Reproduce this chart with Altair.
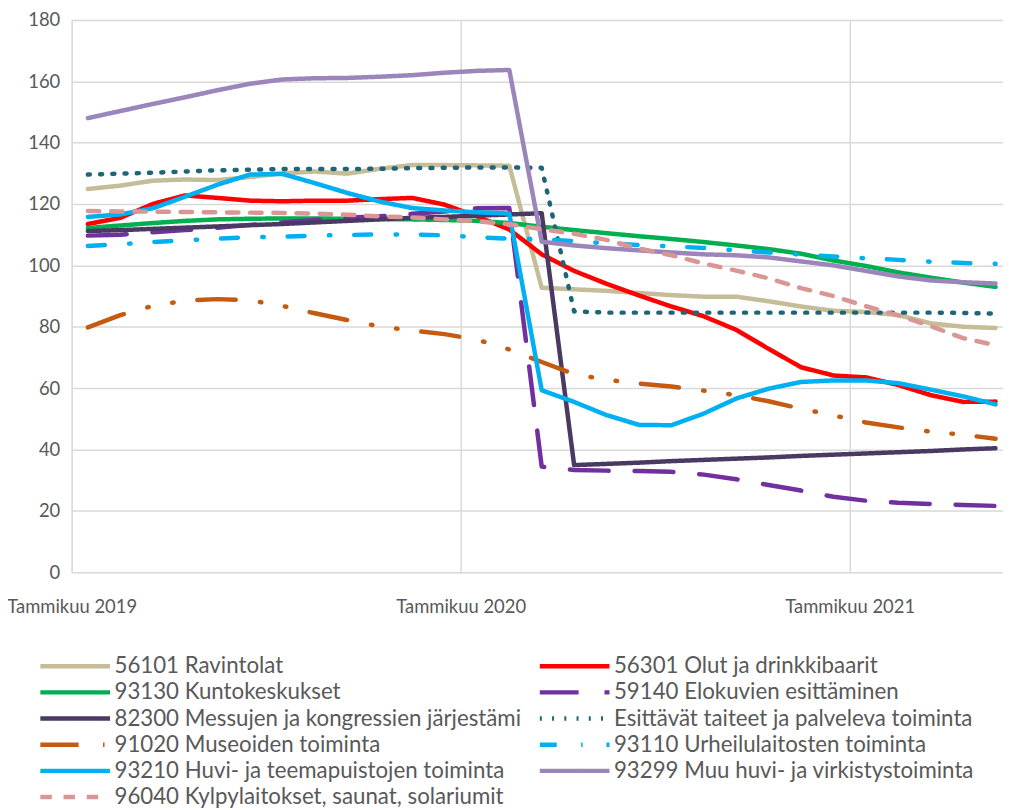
import altair as alt
import pandas as pd

# Months Jan 2019 .. May 2021 (29 monthly points)
kuukaudet = [f"{y}-{m:02d}" for y in (2019, 2020, 2021) for m in range(1, 13)][:29]

sarjat = [
    "56101 Ravintolat",
    "56301 Olut ja drinkkibaarit",
    "93130 Kuntokeskukset",
    "59140 Elokuvien esittäminen",
    "82300 Messujen ja kongressien järjestämi",
    "Esittävät taiteet ja palveleva toiminta",
    "91020 Museoiden toiminta",
    "93110 Urheilulaitosten toiminta",
    "93210 Huvi- ja teemapuistojen toiminta",
    "93299 Muu huvi- ja virkistystoiminta",
    "96040 Kylpylaitokset, saunat, solariumit",
]

ravintolat = [124.9, 126.0, 127.6, 128.0, 127.8, 128.8, 130.0, 130.6, 129.9, 131.5, 132.7, 132.7, 132.6, 132.5,
              92.7, 92.2, 91.7, 91.0, 90.3, 89.8, 89.8, 88.3, 86.6, 85.2, 84.8, 83.8, 81.1, 80.0, 79.6]
olut = [113.5, 115.5, 120.0, 122.8, 122.0, 121.1, 120.9, 121.1, 121.1, 121.6, 122.0, 119.8, 116.0, 111.7,
        103.6, 98.2, 94.0, 90.2, 86.6, 83.4, 79.0, 72.8, 66.8, 64.1, 63.5, 61.0, 57.7, 55.5, 55.6]
kunto = [112.2, 113.0, 113.8, 114.5, 115.0, 115.2, 115.3, 115.3, 115.2, 115.1, 115.0, 114.8, 114.5, 113.8,
         112.6, 111.5, 110.5, 109.5, 108.6, 107.6, 106.5, 105.3, 103.8, 101.6, 99.8, 97.7, 96.0, 94.4, 93.0]
elokuvat = [109.7, 110.0, 110.8, 111.5, 112.3, 113.2, 114.0, 114.8, 115.5, 116.0, 116.8, 117.6, 118.6, 118.7,
            34.4, 33.3, 33.1, 33.0, 32.7, 31.8, 30.3, 28.4, 26.6, 24.6, 23.3, 22.6, 22.2, 21.9, 21.6]
messut = [111.2, 111.5, 111.9, 112.3, 112.7, 113.1, 113.5, 114.0, 114.5, 115.0, 115.5, 115.8, 116.2, 116.6,
          117.0, 34.9, 35.3, 35.7, 36.2, 36.6, 37.0, 37.4, 37.9, 38.3, 38.7, 39.1, 39.5, 40.0, 40.4]
esittavat = [129.6, 129.9, 130.2, 130.6, 131.0, 131.2, 131.4, 131.4, 131.4, 131.5, 131.7, 131.8, 131.9, 131.9,
             131.8, 85.0, 84.6, 84.6, 84.6, 84.6, 84.6, 84.6, 84.6, 84.6, 84.6, 84.6, 84.6, 84.5, 84.3]
museot = [79.8, 83.8, 86.8, 88.5, 89.0, 88.6, 86.8, 84.4, 82.2, 80.1, 78.8, 77.6, 75.8, 72.6,
          68.5, 64.6, 62.7, 61.5, 60.5, 59.2, 57.7, 55.7, 53.3, 51.1, 48.8, 47.2, 45.8, 44.8, 43.5]
urheilu = [106.3, 106.9, 107.6, 108.2, 108.7, 109.2, 109.4, 109.7, 109.9, 110.1, 110.1, 109.8, 109.2, 108.7,
           108.5, 107.9, 107.2, 106.6, 106.2, 105.7, 104.9, 104.2, 103.5, 102.9, 102.3, 101.8, 101.2, 100.8, 100.5]
huvi = [115.8, 116.6, 118.6, 122.4, 126.3, 129.6, 129.8, 126.8, 123.6, 120.8, 118.7, 117.9, 117.3, 116.9,
        59.3, 55.5, 51.2, 48.0, 47.9, 51.7, 56.6, 59.8, 62.0, 62.5, 62.5, 61.6, 59.5, 57.3, 54.7]
muu = [148.0, 150.3, 152.6, 154.8, 157.1, 159.2, 160.6, 161.0, 161.1, 161.5, 162.0, 162.8, 163.4, 163.7,
       107.7, 106.5, 105.6, 104.9, 104.2, 103.6, 103.3, 102.6, 101.3, 100.0, 98.2, 96.4, 95.1, 94.5, 94.1]
kylpy = [117.7, 117.6, 117.5, 117.4, 117.3, 117.2, 117.1, 116.9, 116.5, 116.0, 115.6, 115.0, 114.4, 113.4,
         111.8, 110.3, 108.3, 105.5, 103.3, 100.6, 98.3, 95.8, 92.6, 90.0, 86.7, 83.7, 80.2, 76.3, 74.0]

arvot = [ravintolat, olut, kunto, elokuvat, messut, esittavat, museot, urheilu, huvi, muu, kylpy]

varit = ["#C4BD97", "#FF0000", "#00B050", "#7030A0", "#4A3A63", "#1F6577",
         "#C55A11", "#00B0F0", "#00B0F0", "#9B85BA", "#D99694"]
viivat = [[1, 0], [1, 0], [1, 0], [39, 26], [1, 0], [2, 10.3],
          [38.5, 24.5, 1.5, 24, 1.5, 24], [17, 24.5, 1.5, 24], [1, 0], [1, 0], [11.5, 11.8]]

x_tick_values = [0, 12, 24]
x_tick_labels = ["Tammikuu 2019", "Tammikuu 2020", "Tammikuu 2021"]

rows = []
for s_i, (nimi, vals) in enumerate(zip(sarjat, arvot)):
    for i, (kk, v) in enumerate(zip(kuukaudet, vals)):
        rows.append({"sarja": nimi, "jarj": s_i, "kk": kk, "x": i + 0.5, "arvo": v})
df = pd.DataFrame(rows)

label_expr = " : ".join(
    f"datum.value == {v} ? '{t}'" for v, t in zip(x_tick_values, x_tick_labels)
) + " : ''"

TXT = "#595959"
GRID = "#D9D9D9"
FONT = "Lato"

legend = alt.Legend(
    title=None, orient="none", legendX=-9, legendY=637, columns=2, direction="horizontal",
    symbolType="M-3.5,0L3.5,0", symbolSize=400, symbolStrokeWidth=4.5,
    labelFontSize=22.4, labelColor=TXT, labelFont=FONT,
    rowPadding=2.3, columnPadding=9, labelOffset=27, labelLimit=600,
)

chart = alt.Chart(df).mark_line(strokeWidth=4.5, strokeCap="round", strokeJoin="round").encode(
    x=alt.X("x:Q", scale=alt.Scale(domain=[0, 28.73], nice=False, zero=False),
            axis=alt.Axis(values=x_tick_values, labelExpr=label_expr, title=None, grid=True,
                          gridColor=GRID, gridWidth=1.5, ticks=False, domain=False,
                          labelFontSize=18.5, labelColor=TXT, labelFont=FONT, labelPadding=26,
                          labelFlush=False)),
    y=alt.Y("arvo:Q", scale=alt.Scale(domain=[0, 180], nice=False),
            axis=alt.Axis(values=list(range(0, 181, 20)), title=None, grid=True,
                          gridColor=GRID, gridWidth=1.5, ticks=False, domain=False,
                          labelFontSize=18.5, labelColor=TXT, labelFont=FONT, labelPadding=12)),
    color=alt.Color("sarja:N", scale=alt.Scale(domain=sarjat, range=varit), legend=legend),
    strokeDash=alt.StrokeDash("sarja:N", scale=alt.Scale(domain=sarjat, range=viivat), legend=legend),
    order=alt.Order("x:Q"),
).properties(
    width=936, height=555,
    autosize=alt.AutoSizeParams(type="none"),
    padding={"left": 64, "top": 10, "right": 0, "bottom": 237},
).configure_view(stroke=None).configure(background="white")

chart.save("out.html", embed_options={"renderer": "svg", "actions": False})
